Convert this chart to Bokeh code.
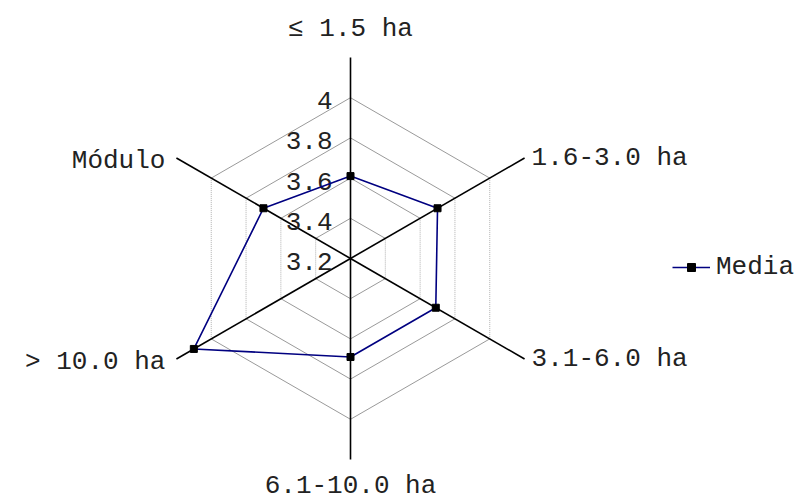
import numpy as np
from bokeh.plotting import figure
from bokeh.models import Range1d, ColumnDataSource, Legend, LegendItem
from bokeh.core.properties import value
from bokeh.embed import file_html
from bokeh.resources import INLINE

# ---- data ----
categories = ["≤ 1.5 ha", "1.6-3.0 ha", "3.1-6.0 ha", "6.1-10.0 ha", "> 10.0 ha", "Módulo"]
media = [3.61, 3.70, 3.69, 3.69, 4.10, 3.70]
series_name = "Media"
ring_values = [3.4, 3.6, 3.8, 4.0]
tick_values = [3.2, 3.4, 3.6, 3.8, 4.0]
tick_labels = ["3.2", "3.4", "3.6", "3.8", "4"]
r_min = 3.2
r_max = 4.2

FONT = "Liberation Mono"
FS = "26px"
TXT = "#222222"

n = len(categories)
ang = np.deg2rad(90 - 60 * np.arange(n))


def pol(v, i):
    r = v - r_min
    return r * np.cos(ang[i]), r * np.sin(ang[i])


W, H = 798, 502
unit = 201.0
cx, cy = 350, 258  # centre position in frame px
p = figure(width=W, height=H, output_backend="svg", toolbar_location=None,
           x_range=Range1d(-cx / unit, (W - cx) / unit),
           y_range=Range1d(-(H - cy) / unit, cy / unit),
           min_border=0, outline_line_color=None)
p.axis.visible = False
p.grid.visible = False
p.background_fill_color = "white"
p.border_fill_color = "white"

# grid rings
solid_xs, solid_ys, dot_xs, dot_ys = [], [], [], []
for v in ring_values:
    pts = [pol(v, i) for i in range(n)]
    for i in range(n):
        a, b = pts[i], pts[(i + 1) % n]
        if i in (1, 4):
            dot_xs.append([a[0], b[0]]); dot_ys.append([a[1], b[1]])
        else:
            solid_xs.append([a[0], b[0]]); solid_ys.append([a[1], b[1]])
p.multi_line(solid_xs, solid_ys, line_color="#9a9a9a", line_width=1)
p.multi_line(dot_xs, dot_ys, line_color="#b0b0b0", line_width=1, line_dash="1 1")

# spokes
ax_xs, ax_ys = [], []
for i in range(n):
    ex, ey = pol(r_max, i)
    ax_xs.append([0, ex]); ax_ys.append([0, ey])
p.multi_line(ax_xs, ax_ys, line_color="black", line_width=1.6)

# tick labels along top spoke
p.text(x=[0] * len(tick_values), y=[v - r_min for v in tick_values], text=tick_labels,
       text_font=value(FONT), text_font_size=FS, text_color=TXT,
       text_align="right", text_baseline="middle", x_offset=-18, y_offset=3)

# category labels
for i, c in enumerate(categories):
    ex, ey = pol(r_max, i)
    deg = (90 - 60 * i) % 360
    if deg == 90:
        p.text(x=[ex], y=[ey], text=[c], text_font=value(FONT), text_font_size=FS, text_color=TXT,
               text_align="center", text_baseline="middle", y_offset=-29)
    elif deg == 270:
        p.text(x=[ex], y=[ey], text=[c], text_font=value(FONT), text_font_size=FS, text_color=TXT,
               text_align="center", text_baseline="middle", y_offset=26)
    elif np.cos(ang[i]) > 0:
        p.text(x=[ex], y=[ey], text=[c], text_font=value(FONT), text_font_size=FS, text_color=TXT,
               text_align="left", text_baseline="middle", x_offset=7)
    else:
        p.text(x=[ex], y=[ey], text=[c], text_font=value(FONT), text_font_size=FS, text_color=TXT,
               text_align="right", text_baseline="middle", x_offset=-11, y_offset=3)

# series
xs = [pol(v, i)[0] for i, v in enumerate(media)]
ys = [pol(v, i)[1] for i, v in enumerate(media)]
src = ColumnDataSource(dict(x=xs + [xs[0]], y=ys + [ys[0]]))
ln = p.line("x", "y", source=src, line_color="#000080", line_width=1.6)
mk = p.scatter(x=xs, y=ys, marker="square", size=7, fill_color="black", line_color="black")

legend = Legend(items=[LegendItem(label=series_name, renderers=[ln, mk])],
                location=(672, 220), glyph_width=38, glyph_height=20, label_height=20,
                label_standoff=6, padding=0, margin=0, border_line_alpha=0,
                background_fill_alpha=0, label_text_font=FONT, label_text_font_size=FS,
                label_text_color=TXT)
p.add_layout(legend, "center")

open("out.html", "w").write(file_html(p, INLINE))
